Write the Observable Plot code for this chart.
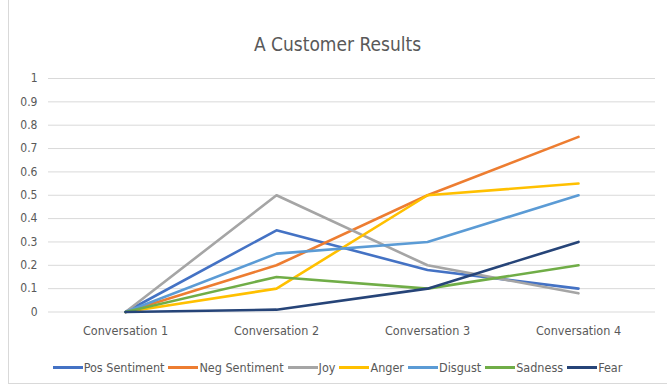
<!DOCTYPE html>
<html>
<head>
<meta charset="utf-8">
<script src="https://cdn.jsdelivr.net/npm/d3@7"></script>
<script src="https://cdn.jsdelivr.net/npm/@observablehq/plot@0.6"></script>
<style>
  html, body { margin: 0; padding: 0; background: #fff; }
  #wrap { position: relative; width: 667px; height: 387px; overflow: hidden;
          font-family: "DejaVu Sans Condensed", "Liberation Sans Narrow", sans-serif; color: #595959; }
  #frame { position: absolute; left: 8px; top: -2px; width: 700px; height: 386px; border: 1px solid #d9d9d9; box-sizing: border-box; pointer-events: none; }
  #title { height: 62px; box-sizing: border-box; padding-top: 33px; text-align: center; font-size: 19px; line-height: 22px; color: #595959; padding-left: 8px; }
  #legend { display: flex; justify-content: center; align-items: center; gap: 4px; height: 30px; font-size: 12.5px; color: #595959; padding-left: 8px; }
  .item { display: flex; align-items: center; gap: 1px; }
  .sw { display: inline-block; width: 30px; height: 3px; }
</style>
</head>
<body>
<div id="wrap">
  <div id="frame"></div>
  <div id="title">A Customer Results</div>
  <div id="chart"></div>
  <div id="legend"></div>
</div>
<script>
const categories = ["Conversation 1", "Conversation 2", "Conversation 3", "Conversation 4"];
const seriesNames = ["Pos Sentiment", "Neg Sentiment", "Joy", "Anger", "Disgust", "Sadness", "Fear"];
const posSentiment = [0, 0.35, 0.18, 0.10];
const negSentiment = [0, 0.20, 0.50, 0.75];
const joy = [0, 0.50, 0.20, 0.08];
const anger = [0, 0.10, 0.50, 0.55];
const disgust = [0, 0.25, 0.30, 0.50];
const sadness = [0, 0.15, 0.10, 0.20];
const fear = [0, 0.01, 0.10, 0.30];
const yTicks = [0, 0.1, 0.2, 0.3, 0.4, 0.5, 0.6, 0.7, 0.8, 0.9, 1];
const colors = ["#4472C4", "#ED7D31", "#A5A5A5", "#FFC000", "#5B9BD5", "#70AD47", "#264478"];

const seriesValues = [posSentiment, negSentiment, joy, anger, disgust, sadness, fear];
const data = [];
seriesNames.forEach((s, i) => {
  seriesValues[i].forEach((v, j) => data.push({series: s, category: categories[j], value: v}));
});

const chart = Plot.plot({
  width: 667,
  height: 290,
  marginTop: 16,
  marginBottom: 40.5,
  marginLeft: 48,
  marginRight: 12,
  style: {fontFamily: '"DejaVu Sans Condensed", "Liberation Sans Narrow", sans-serif', fontSize: "12px", color: "#595959", background: "transparent"},
  x: {type: "point", domain: categories, padding: 0.5, label: null},
  y: {domain: [0, 1], label: null},
  color: {domain: seriesNames, range: colors},
  marks: [
    Plot.ruleY(yTicks, {stroke: "#d9d9d9", strokeWidth: 1}),
    Plot.axisY({ticks: yTicks, tickSize: 0, tickPadding: 11, tickFormat: d => String(+d.toFixed(1)), label: null, fontSize: 12}),
    Plot.axisX({tickSize: 0, tickPadding: 14, label: null, fontSize: 12.5}),
    Plot.line(data, {x: "category", y: "value", z: "series", stroke: "series", strokeWidth: 2.6, strokeLinejoin: "round", strokeLinecap: "round"})
  ]
});
document.getElementById("chart").appendChild(chart);

const legend = document.getElementById("legend");
seriesNames.forEach((s, i) => {
  const it = document.createElement("span");
  it.className = "item";
  const sw = document.createElement("span");
  sw.className = "sw";
  sw.style.background = colors[i];
  const t = document.createElement("span");
  t.textContent = s;
  it.appendChild(sw);
  it.appendChild(t);
  legend.appendChild(it);
});
</script>
</body>
</html>
